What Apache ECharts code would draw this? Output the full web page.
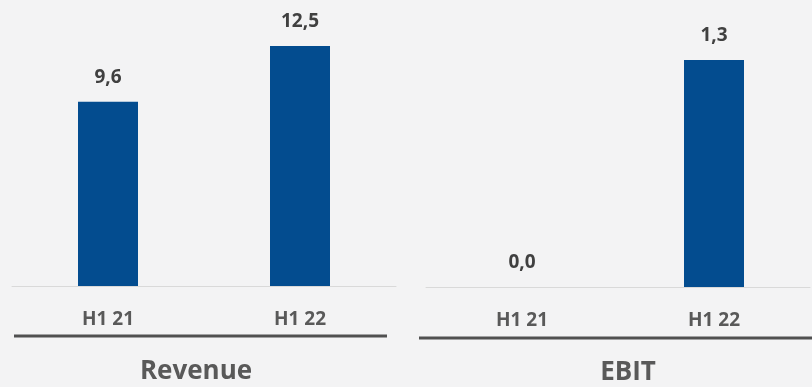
<!DOCTYPE html>
<html>
<head>
<meta charset="utf-8">
<script src="https://cdn.jsdelivr.net/npm/echarts@6/dist/echarts.min.js"></script>
<style>
html,body{margin:0;padding:0;background:#f3f3f4;}
#c{width:812px;height:387px;}
</style>
</head>
<body>
<div id="c"></div>
<script>
var categories = ['H1 21', 'H1 22'];
var revenue = [9.6, 12.5];
var ebit = [0.0, 1.3];
var panelTitles = ['Revenue', 'EBIT'];

var FONT = '"Open Sans"';
var BLUE = '#034c8f';
var chart = echarts.init(document.getElementById('c'));

function fmt(p){ return p.value.toFixed(1).replace('.', ','); }

function xAxisFor(idx){
  return {
    type: 'category', gridIndex: idx, data: categories,
    axisLine: {show: true, lineStyle: {color: '#d9d9d9', width: 1}},
    axisTick: {show: false},
    axisLabel: {margin: 24, color: '#595959', fontFamily: FONT, fontWeight: 'bold', fontSize: 19}
  };
}
function yAxisFor(idx, max){
  return {type: 'value', gridIndex: idx, min: 0, max: max, show: false, splitLine: {show: false}};
}
function seriesFor(idx, data){
  return {
    type: 'bar', xAxisIndex: idx, yAxisIndex: idx, data: data, barWidth: 60,
    itemStyle: {color: BLUE},
    label: {show: true, position: 'top', distance: 15, formatter: fmt,
            color: '#404040', fontFamily: FONT, fontWeight: 'bold', fontSize: 19}
  };
}

chart.setOption({
  backgroundColor: '#f3f3f4',
  animation: false,
  grid: [
    {left: 12, width: 384, top: 10, height: 276},
    {left: 426, width: 384, top: 10, height: 277}
  ],
  xAxis: [xAxisFor(0), xAxisFor(1)],
  yAxis: [yAxisFor(0, 14.375), yAxisFor(1, 1.586)],
  series: [seriesFor(0, revenue), seriesFor(1, ebit)],
  graphic: [
    {type: 'line', shape: {x1: 14, y1: 336, x2: 387, y2: 336}, style: {stroke: '#505050', lineWidth: 3}},
    {type: 'line', shape: {x1: 419, y1: 338, x2: 812, y2: 338}, style: {stroke: '#505050', lineWidth: 3}},
    {type: 'text', x: 196, y: 372, style: {text: panelTitles[0], textAlign: 'center', textVerticalAlign: 'middle',
      fill: '#595959', font: 'bold 26px ' + FONT}},
    {type: 'text', x: 628, y: 373, style: {text: panelTitles[1], textAlign: 'center', textVerticalAlign: 'middle',
      fill: '#595959', font: 'bold 26px ' + FONT}}
  ]
});
</script>
</body>
</html>
